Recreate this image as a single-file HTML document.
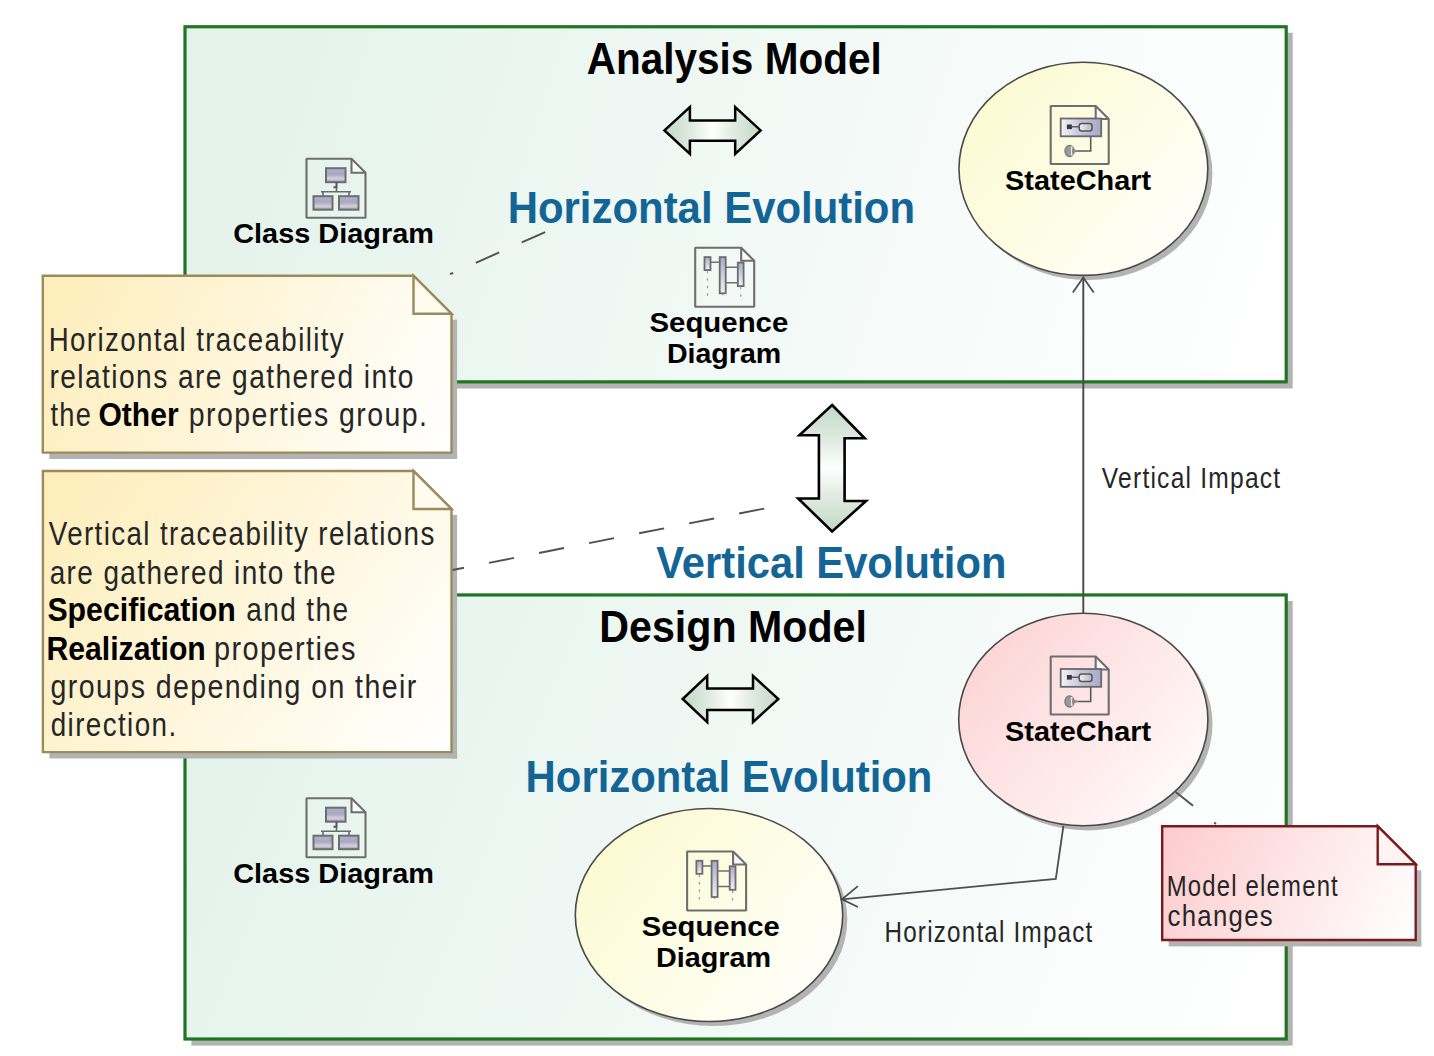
<!DOCTYPE html>
<html><head><meta charset="utf-8"><style>
html,body{margin:0;padding:0;background:#ffffff;width:1434px;height:1056px;overflow:hidden}
svg{display:block;font-family:"Liberation Sans",sans-serif}
</style></head><body>
<svg width="1434" height="1056" viewBox="0 0 1434 1056">
<defs>
<linearGradient id="gframe1" gradientUnits="userSpaceOnUse" x1="185" y1="26.7" x2="1286.2" y2="381.8"><stop offset="0" stop-color="#e3f2eb"/><stop offset="1" stop-color="#ffffff"/></linearGradient>
<linearGradient id="gframe2" gradientUnits="userSpaceOnUse" x1="185" y1="595" x2="1286.2" y2="1039"><stop offset="0" stop-color="#e3f2eb"/><stop offset="1" stop-color="#ffffff"/></linearGradient>
<linearGradient id="gnote1" gradientUnits="userSpaceOnUse" x1="42.8" y1="275.7" x2="451.5" y2="452.6"><stop offset="0" stop-color="#fdedb8"/><stop offset="1" stop-color="#ffffff"/></linearGradient>
<linearGradient id="gnote2" gradientUnits="userSpaceOnUse" x1="42.9" y1="471" x2="451.5" y2="752.1"><stop offset="0" stop-color="#fdedb8"/><stop offset="1" stop-color="#ffffff"/></linearGradient>
<linearGradient id="gnote3" gradientUnits="userSpaceOnUse" x1="1162.2" y1="826.2" x2="1415.7" y2="940"><stop offset="0" stop-color="#fdcbcd"/><stop offset="1" stop-color="#ffffff"/></linearGradient>
<linearGradient id="gell1" gradientUnits="userSpaceOnUse" x1="959" y1="62.2" x2="1208" y2="275.5"><stop offset="0" stop-color="#fbfacc"/><stop offset="1" stop-color="#ffffff"/></linearGradient>
<linearGradient id="gell2" gradientUnits="userSpaceOnUse" x1="959" y1="613.2" x2="1208" y2="826"><stop offset="0" stop-color="#fdcfd0"/><stop offset="1" stop-color="#ffffff"/></linearGradient>
<linearGradient id="gell3" gradientUnits="userSpaceOnUse" x1="575.3" y1="808.4" x2="842.7" y2="1021.5"><stop offset="0" stop-color="#fbfacc"/><stop offset="1" stop-color="#ffffff"/></linearGradient>
<linearGradient id="gbox" x1="0" y1="0" x2="0" y2="1"><stop offset="0" stop-color="#b2b2d2"/><stop offset="0.45" stop-color="#a8a8c4"/><stop offset="0.75" stop-color="#d2d2dc"/><stop offset="1" stop-color="#9c9cb4"/></linearGradient>
<linearGradient id="gbar" x1="0" y1="0" x2="0" y2="1"><stop offset="0" stop-color="#a9a9cd"/><stop offset="1" stop-color="#f2f2f6"/></linearGradient>
<linearGradient id="gstate" x1="0" y1="0" x2="1" y2="0"><stop offset="0" stop-color="#f4f4f8"/><stop offset="0.5" stop-color="#c4c4dc"/><stop offset="1" stop-color="#a8a8cc"/></linearGradient>
<linearGradient id="gkey" x1="0" y1="0" x2="1" y2="0"><stop offset="0" stop-color="#f0f0f0"/><stop offset="1" stop-color="#b8b8b8"/></linearGradient>
<linearGradient id="garrH" x1="0" y1="0" x2="1" y2="0"><stop offset="0" stop-color="#c2d7c6"/><stop offset="0.3" stop-color="#e3ece4"/><stop offset="0.5" stop-color="#ffffff"/><stop offset="0.7" stop-color="#e3ece4"/><stop offset="1" stop-color="#c2d7c6"/></linearGradient>
<linearGradient id="garrV" x1="0" y1="0" x2="0" y2="1"><stop offset="0" stop-color="#c2d7c6"/><stop offset="0.3" stop-color="#e3ece4"/><stop offset="0.5" stop-color="#ffffff"/><stop offset="0.7" stop-color="#e3ece4"/><stop offset="1" stop-color="#c2d7c6"/></linearGradient>
</defs>
<rect x="191.4" y="32.8" width="1101.3" height="355.7" fill="#b3b3b3"/><rect x="185.00" y="26.75" width="1101.20" height="355.10" fill="url(#gframe1)" stroke="#1e7622" stroke-width="3.2"/>
<rect x="191.4" y="601.0" width="1101.3" height="444.6" fill="#b3b3b3"/><rect x="185.00" y="594.95" width="1101.20" height="444.05" fill="url(#gframe2)" stroke="#1e7622" stroke-width="3.2"/>
<rect x="451.5" y="319.7" width="5.6" height="139.3" fill="#b3b3b3"/><rect x="49.3" y="452.6" width="407.8" height="6.4" fill="#b3b3b3"/>
<rect x="451.5" y="515.0" width="5.6" height="243.5" fill="#b3b3b3"/><rect x="49.4" y="752.1" width="407.7" height="6.4" fill="#b3b3b3"/>
<rect x="1415.7" y="870.2" width="5.6" height="76.2" fill="#b3b3b3"/><rect x="1168.7" y="940.0" width="252.6" height="6.4" fill="#b3b3b3"/>
<path d="M664.5 130.4 L689.9 107.2 V120.4 H735.2 V107.2 L760.6 130.4 L735.2 153.9 V140.8 H689.9 V153.9 Z" fill="url(#garrH)" stroke="#000" stroke-width="2.5" stroke-linejoin="miter"/>
<path d="M351.5 158.7 L365.5 172.7 V172.7 H351.5 Z" fill="#fcfcfc"/><path d="M306.5 158.7 H351.5 L365.5 172.7 V217.7 H306.5 Z" fill="none" stroke="#6e6e6e" stroke-width="2.1" stroke-linejoin="bevel"/><path d="M351.5 158.7 V172.7 H365.5" fill="none" stroke="#6e6e6e" stroke-width="2.1"/><rect x="326.0" y="168.2" width="19.5" height="14.0" fill="url(#gbox)" stroke="#6e6e6e" stroke-width="2"/><path d="M336.5 187.7 V191.7 M321.0 191.7 H351.0 M323.0 191.7 V196.2 M349.0 191.7 V196.2" stroke="#6a6a6a" stroke-width="1.6" fill="none"/><path d="M336.5 182.2 V187.2 L333.5 187.2" stroke="#555" stroke-width="2" fill="none"/><rect x="313.5" y="196.2" width="19.0" height="13.5" fill="url(#gbox)" stroke="#6e6e6e" stroke-width="2"/><rect x="339.0" y="196.2" width="19.5" height="13.5" fill="url(#gbox)" stroke="#6e6e6e" stroke-width="2"/>
<path d="M741.2 247.8 L754.2 260.8 V260.8 H741.2 Z" fill="#fcfcfc"/><path d="M695.2 247.8 H741.2 L754.2 260.8 V306.8 H695.2 Z" fill="none" stroke="#6e6e6e" stroke-width="2.1" stroke-linejoin="bevel"/><path d="M741.2 247.8 V260.8 H754.2" fill="none" stroke="#6e6e6e" stroke-width="2.1"/><path d="M707.5 270.8 V296.8 M722.7 292.8 V296.8 M740.7 286.8 V296.8" stroke="#9a9a9a" stroke-width="1.2" stroke-dasharray="2.5 5" fill="none"/><path d="M710.7 262.3 H719.4 M726.2 267.3 H737.8 M726.2 282.8 H737.8" stroke="#707070" stroke-width="1.6" fill="none"/><rect x="704.5" y="257.1" width="6.0" height="13.0" fill="url(#gbar)" stroke="#6c6c6c" stroke-width="1.8"/><rect x="719.7" y="257.1" width="6.0" height="36.2" fill="url(#gbar)" stroke="#6c6c6c" stroke-width="1.8"/><rect x="737.8" y="262.6" width="5.8" height="23.5" fill="url(#gbar)" stroke="#6c6c6c" stroke-width="1.8"/>
<ellipse cx="1088.0" cy="173.4" rx="124.4" ry="106.6" fill="#b3b3b3"/><ellipse cx="1083.4" cy="168.8" rx="124.4" ry="106.6" fill="url(#gell1)" stroke="#4a4a4a" stroke-width="1.6"/>
<path d="M1095.7 106.0 L1108.7 119.0 V119.0 H1095.7 Z" fill="#fcfcfc"/><path d="M1050.7 106.0 H1095.7 L1108.7 119.0 V164.0 H1050.7 Z" fill="none" stroke="#6e6e6e" stroke-width="2.1" stroke-linejoin="bevel"/><path d="M1095.7 106.0 V119.0 H1108.7" fill="none" stroke="#6e6e6e" stroke-width="2.1"/><rect x="1060.7" y="118.5" width="40.5" height="17.8" fill="url(#gstate)" stroke="#6a6a6a" stroke-width="1.8"/><rect x="1066.9" y="124.5" width="5" height="4.6" fill="#3a3a3a"/><path d="M1071.7 126.8 H1079.2" stroke="#555" stroke-width="1.4"/><rect x="1079.2" y="123.5" width="12.8" height="7.6" rx="2.5" fill="url(#gkey)" stroke="#555" stroke-width="1.5"/><path d="M1090.7 136.3 V151.0 H1074.7" stroke="#5a5a5a" stroke-width="1.6" fill="none"/><ellipse cx="1069.5" cy="151.0" rx="4.6" ry="5.6" fill="#9a9a9a" stroke="#777" stroke-width="1.2"/><path d="M1071.7 146.5 V155.5" stroke="#e8e8e8" stroke-width="1.6"/><path d="M1072.2 148.5 L1078.7 151.0 L1072.2 153.5 Z" fill="#8a8a8a"/>
<path d="M545.2 232.1 L450 274.2" stroke="#505050" stroke-width="1.9" stroke-dasharray="25.6 24.7" fill="none"/>
<path d="M682.7 699.0 L707.2 675.9 V688.6 H753.0 V675.9 L778.3 699.0 L753.0 722.1 V709.9 H707.2 V722.1 Z" fill="url(#garrH)" stroke="#000" stroke-width="2.5" stroke-linejoin="miter"/>
<path d="M351.5 798.2 L365.5 812.2 V812.2 H351.5 Z" fill="#fcfcfc"/><path d="M306.5 798.2 H351.5 L365.5 812.2 V857.2 H306.5 Z" fill="none" stroke="#6e6e6e" stroke-width="2.1" stroke-linejoin="bevel"/><path d="M351.5 798.2 V812.2 H365.5" fill="none" stroke="#6e6e6e" stroke-width="2.1"/><rect x="326.0" y="807.7" width="19.5" height="14.0" fill="url(#gbox)" stroke="#6e6e6e" stroke-width="2"/><path d="M336.5 827.2 V831.2 M321.0 831.2 H351.0 M323.0 831.2 V835.7 M349.0 831.2 V835.7" stroke="#6a6a6a" stroke-width="1.6" fill="none"/><path d="M336.5 821.7 V826.7 L333.5 826.7" stroke="#555" stroke-width="2" fill="none"/><rect x="313.5" y="835.7" width="19.0" height="13.5" fill="url(#gbox)" stroke="#6e6e6e" stroke-width="2"/><rect x="339.0" y="835.7" width="19.5" height="13.5" fill="url(#gbox)" stroke="#6e6e6e" stroke-width="2"/>
<ellipse cx="713.6" cy="919.6" rx="133.7" ry="106.5" fill="#b3b3b3"/><ellipse cx="709.0" cy="915.0" rx="133.7" ry="106.5" fill="url(#gell3)" stroke="#4a4a4a" stroke-width="1.6"/>
<path d="M733.1 851.5 L746.1 864.5 V864.5 H733.1 Z" fill="#fcfcfc"/><path d="M687.1 851.5 H733.1 L746.1 864.5 V910.5 H687.1 Z" fill="none" stroke="#6e6e6e" stroke-width="2.1" stroke-linejoin="bevel"/><path d="M733.1 851.5 V864.5 H746.1" fill="none" stroke="#6e6e6e" stroke-width="2.1"/><path d="M699.4 874.5 V900.5 M714.6 896.5 V900.5 M732.6 890.5 V900.5" stroke="#9a9a9a" stroke-width="1.2" stroke-dasharray="2.5 5" fill="none"/><path d="M702.6 866.0 H711.3 M718.1 871.0 H729.7 M718.1 886.5 H729.7" stroke="#707070" stroke-width="1.6" fill="none"/><rect x="696.4" y="860.8" width="6.0" height="13.0" fill="url(#gbar)" stroke="#6c6c6c" stroke-width="1.8"/><rect x="711.6" y="860.8" width="6.0" height="36.2" fill="url(#gbar)" stroke="#6c6c6c" stroke-width="1.8"/><rect x="729.7" y="866.3" width="5.8" height="23.5" fill="url(#gbar)" stroke="#6c6c6c" stroke-width="1.8"/>
<ellipse cx="1087.9" cy="724.1" rx="124.6" ry="106.3" fill="#b3b3b3"/><ellipse cx="1083.3" cy="719.5" rx="124.6" ry="106.3" fill="url(#gell2)" stroke="#4a4a4a" stroke-width="1.6"/>
<path d="M1095.7 656.5 L1108.7 669.5 V669.5 H1095.7 Z" fill="#fcfcfc"/><path d="M1050.7 656.5 H1095.7 L1108.7 669.5 V714.5 H1050.7 Z" fill="none" stroke="#6e6e6e" stroke-width="2.1" stroke-linejoin="bevel"/><path d="M1095.7 656.5 V669.5 H1108.7" fill="none" stroke="#6e6e6e" stroke-width="2.1"/><rect x="1060.7" y="669.0" width="40.5" height="17.8" fill="url(#gstate)" stroke="#6a6a6a" stroke-width="1.8"/><rect x="1066.9" y="675.0" width="5" height="4.6" fill="#3a3a3a"/><path d="M1071.7 677.3 H1079.2" stroke="#555" stroke-width="1.4"/><rect x="1079.2" y="674.0" width="12.8" height="7.6" rx="2.5" fill="url(#gkey)" stroke="#555" stroke-width="1.5"/><path d="M1090.7 686.8 V701.5 H1074.7" stroke="#5a5a5a" stroke-width="1.6" fill="none"/><ellipse cx="1069.5" cy="701.5" rx="4.6" ry="5.6" fill="#9a9a9a" stroke="#777" stroke-width="1.2"/><path d="M1071.7 697.0 V706.0" stroke="#e8e8e8" stroke-width="1.6"/><path d="M1072.2 699.0 L1078.7 701.5 L1072.2 704.0 Z" fill="#8a8a8a"/>
<path d="M1083.3 613 V277.5" stroke="#484848" stroke-width="1.9" fill="none"/>
<path d="M1072.8 292.5 L1083.3 277.5 L1093.7 292.5" stroke="#4a4a4a" stroke-width="1.7" fill="none"/>
<path d="M1063.4 826 L1055.8 878.8 L842 899.3" stroke="#505050" stroke-width="1.8" fill="none"/>
<path d="M857.9 886.2 L842 899.3 L857.9 907.1" stroke="#4a4a4a" stroke-width="1.7" fill="none"/>
<path d="M1175.7 791.9 L1216 824" stroke="#505050" stroke-width="1.9" stroke-dasharray="22.2 27" fill="none"/>
<path d="M832.1 405 L864.7 438.3 H844.6 V501 H866 L832.1 531.5 L798.2 498.5 H818.9 V435.2 H799.4 Z" fill="url(#garrV)" stroke="#000" stroke-width="2.6" stroke-linejoin="miter"/>
<path d="M764.2 508.6 L440 572.5" stroke="#505050" stroke-width="1.9" stroke-dasharray="25.5 25.5" fill="none"/>
<path d="M42.8 275.7 H413.5 L451.5 313.7 V452.6 H42.8 Z" fill="url(#gnote1)" stroke="#9b8b5c" stroke-width="2.4"/><path d="M413.5 275.7 V313.7 H451.5 Z" fill="#fffbee" stroke="#9b8b5c" stroke-width="2.4" stroke-linejoin="miter"/>
<path d="M42.9 471.0 H413.5 L451.5 509.0 V752.1 H42.9 Z" fill="url(#gnote2)" stroke="#9b8b5c" stroke-width="2.4"/><path d="M413.5 471.0 V509.0 H451.5 Z" fill="#fffbee" stroke="#9b8b5c" stroke-width="2.4" stroke-linejoin="miter"/>
<path d="M1162.2 826.2 H1377.7 L1415.7 864.2 V940.0 H1162.2 Z" fill="url(#gnote3)" stroke="#7a1a1c" stroke-width="2.4"/><path d="M1377.7 826.2 V864.2 H1415.7 Z" fill="#fff3f3" stroke="#7a1a1c" stroke-width="2.4" stroke-linejoin="miter"/>
<text id="t_analysis" transform="translate(586.68 73.50) scale(0.9234 1)" font-size="43.9" fill="#000" xml:space="preserve"><tspan font-weight="bold">Analysis Model</tspan></text>
<text id="t_hevo1" transform="translate(507.69 223.30) scale(0.9360 1)" font-size="44.77" fill="#136596" xml:space="preserve"><tspan font-weight="bold">Horizontal Evolution</tspan></text>
<text id="t_class1" transform="translate(233.19 243.40) scale(1.0149 1)" font-size="28.49" fill="#000" xml:space="preserve"><tspan font-weight="bold">Class Diagram</tspan></text>
<text id="t_seq1a" transform="translate(649.47 332.00) scale(1.0316 1)" font-size="28.49" fill="#000" xml:space="preserve"><tspan font-weight="bold">Sequence</tspan></text>
<text id="t_seq1b" transform="translate(666.89 362.70) scale(1.0036 1)" font-size="28.49" fill="#000" xml:space="preserve"><tspan font-weight="bold">Diagram</tspan></text>
<text id="t_state1" transform="translate(1005.09 190.00) scale(1.0147 1)" font-size="28.49" fill="#000" xml:space="preserve"><tspan font-weight="bold">StateChart</tspan></text>
<text id="t_n1a" transform="translate(48.69 350.50) scale(0.8351 1)" font-size="33.14" letter-spacing="1.66" fill="#262626" xml:space="preserve"><tspan font-weight="normal">Horizontal traceability</tspan></text>
<text id="t_n1b" transform="translate(49.50 388.30) scale(0.8499 1)" font-size="33.14" letter-spacing="1.66" fill="#262626" xml:space="preserve"><tspan font-weight="normal">relations are gathered into</tspan></text>
<text id="t_n1c1" transform="translate(50.40 426.20) scale(0.8229 1)" font-size="33.14" letter-spacing="1.66" fill="#262626" xml:space="preserve"><tspan font-weight="normal">the</tspan></text>
<text id="t_n1c2" transform="translate(98.49 426.20) scale(0.9069 1)" font-size="33.14" fill="#000" xml:space="preserve"><tspan font-weight="bold">Other</tspan></text>
<text id="t_n1c3" transform="translate(188.78 426.20) scale(0.8599 1)" font-size="33.14" letter-spacing="1.66" fill="#262626" xml:space="preserve"><tspan font-weight="normal">properties group.</tspan></text>
<text id="t_vevo" transform="translate(656.30 578.40) scale(0.9322 1)" font-size="44.77" fill="#136596" xml:space="preserve"><tspan font-weight="bold">Vertical Evolution</tspan></text>
<text id="t_vimp" transform="translate(1101.80 487.50) scale(0.8132 1)" font-size="30.23" letter-spacing="1.51" fill="#262626" xml:space="preserve"><tspan font-weight="normal">Vertical Impact</tspan></text>
<text id="t_n2a" transform="translate(48.80 545.40) scale(0.8414 1)" font-size="32.99" letter-spacing="1.65" fill="#262626" xml:space="preserve"><tspan font-weight="normal">Vertical traceability relations</tspan></text>
<text id="t_n2b" transform="translate(49.65 583.50) scale(0.8472 1)" font-size="32.99" letter-spacing="1.65" fill="#262626" xml:space="preserve"><tspan font-weight="normal">are gathered into the</tspan></text>
<text id="t_n2c1" transform="translate(47.38 621.20) scale(0.9182 1)" font-size="32.99" fill="#000" xml:space="preserve"><tspan font-weight="bold">Specification</tspan></text>
<text id="t_n2c2" transform="translate(246.15 621.20) scale(0.8508 1)" font-size="32.99" letter-spacing="1.65" fill="#262626" xml:space="preserve"><tspan font-weight="normal">and the</tspan></text>
<text id="t_n2d1" transform="translate(46.47 659.70) scale(0.9153 1)" font-size="32.99" fill="#000" xml:space="preserve"><tspan font-weight="bold">Realization</tspan></text>
<text id="t_n2d2" transform="translate(213.95 659.70) scale(0.8759 1)" font-size="32.99" letter-spacing="1.65" fill="#262626" xml:space="preserve"><tspan font-weight="normal">properties</tspan></text>
<text id="t_n2e" transform="translate(50.53 697.80) scale(0.8654 1)" font-size="32.99" letter-spacing="1.65" fill="#262626" xml:space="preserve"><tspan font-weight="normal">groups depending on their</tspan></text>
<text id="t_n2f" transform="translate(50.76 735.90) scale(0.8434 1)" font-size="32.99" letter-spacing="1.65" fill="#262626" xml:space="preserve"><tspan font-weight="normal">direction.</tspan></text>
<text id="t_design" transform="translate(599.32 642.10) scale(0.9254 1)" font-size="44.48" fill="#000" xml:space="preserve"><tspan font-weight="bold">Design Model</tspan></text>
<text id="t_hevo2" transform="translate(525.60 791.90) scale(0.9347 1)" font-size="44.77" fill="#136596" xml:space="preserve"><tspan font-weight="bold">Horizontal Evolution</tspan></text>
<text id="t_state2" transform="translate(1005.09 740.50) scale(1.0147 1)" font-size="28.49" fill="#000" xml:space="preserve"><tspan font-weight="bold">StateChart</tspan></text>
<text id="t_class2" transform="translate(233.19 882.80) scale(1.0149 1)" font-size="28.49" fill="#000" xml:space="preserve"><tspan font-weight="bold">Class Diagram</tspan></text>
<text id="t_seq2a" transform="translate(641.77 936.20) scale(1.0263 1)" font-size="28.49" fill="#000" xml:space="preserve"><tspan font-weight="bold">Sequence</tspan></text>
<text id="t_seq2b" transform="translate(655.98 966.90) scale(1.0108 1)" font-size="28.49" fill="#000" xml:space="preserve"><tspan font-weight="bold">Diagram</tspan></text>
<text id="t_himp" transform="translate(884.48 941.60) scale(0.8094 1)" font-size="29.94" letter-spacing="1.5" fill="#262626" xml:space="preserve"><tspan font-weight="normal">Horizontal Impact</tspan></text>
<text id="t_n3a" transform="translate(1166.74 895.80) scale(0.8304 1)" font-size="28.78" letter-spacing="1.44" fill="#262626" xml:space="preserve"><tspan font-weight="normal">Model element</tspan></text>
<text id="t_n3b" transform="translate(1167.50 926.00) scale(0.8957 1)" font-size="28.78" letter-spacing="1.44" fill="#262626" xml:space="preserve"><tspan font-weight="normal">changes</tspan></text>
</svg></body></html>
